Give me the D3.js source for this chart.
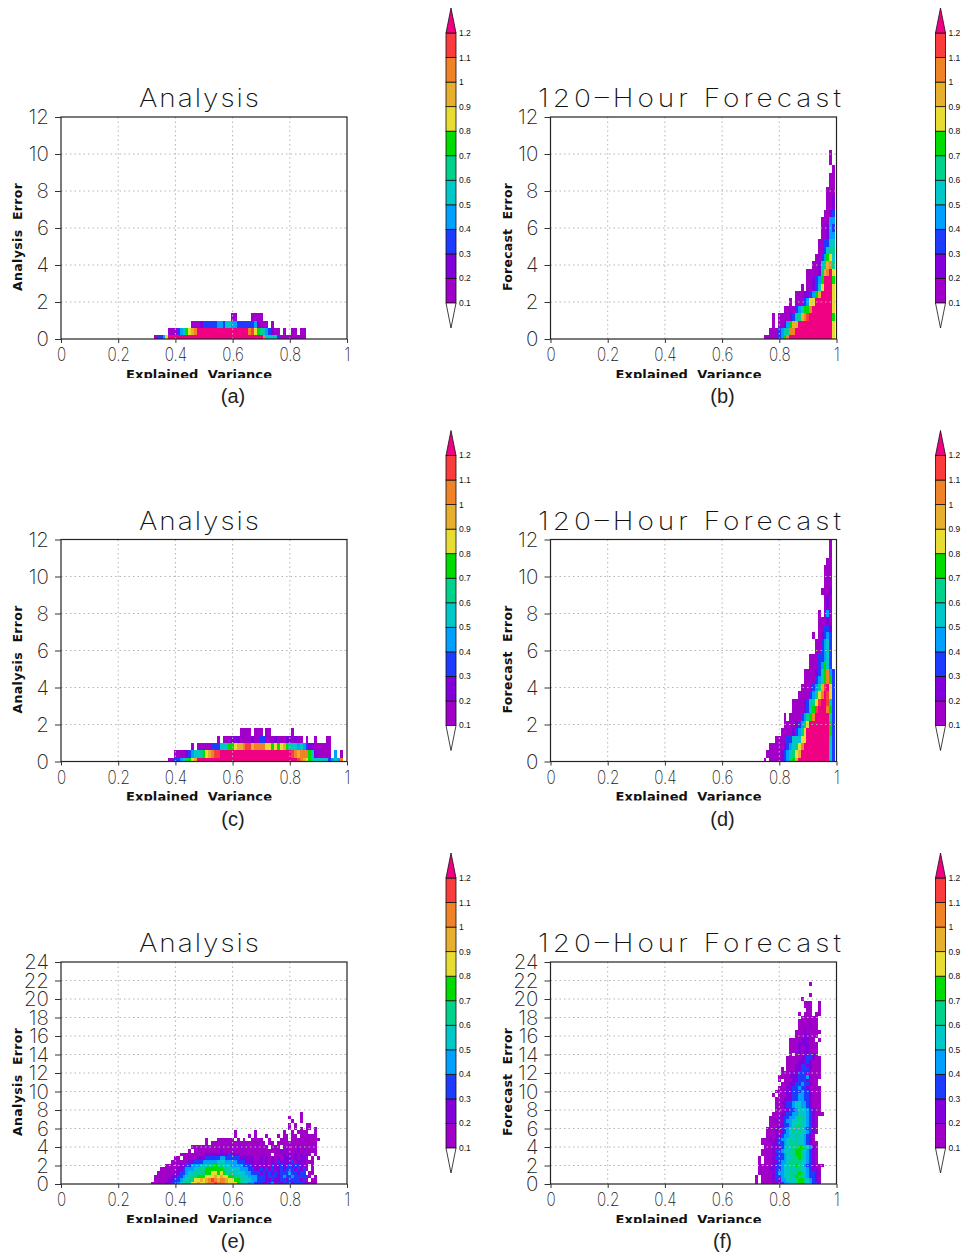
<!DOCTYPE html>
<html>
<head>
<meta charset="utf-8">
<script src="https://d3js.org/d3.v7.min.js"></script>
<style>
  html, body { margin: 0; padding: 0; background: #fff; }
  svg { display: block; }
</style>
</head>
<body>
<div id="chart-container"></div>
<script>
// Binned density: every row is [first column, levels], bottom row first.
// One column = 0.01 explained variance, one row = 0.4 error, both centred on the bin.
// Level char is the lower bound of the colour class x10 in hex ("1" = 0.1-0.2 ... "c" = above 1.2).
var densityA = [
    [33, "13348" + "c".repeat(33) + "a55553111111111"],
    [38, "111345789a" + "c".repeat(18) + "ab876543211.1..11.11"],
    [46, "111233333443554433333342111.1"],
    [60, "11.....1111"]
];
var densityB = [
    [75, "11111347a" + "c".repeat(15) + "8"],
    [77, "111" + "3456aa" + "c".repeat(13) + "8"],
    [78, "1.11" + "24799" + "c".repeat(12) + "8"],
    [78, "1.1111" + "235" + "69ab" + "c".repeat(8) + "7"],
    [82, "1111" + "34577a" + "c".repeat(7) + "8"],
    [84, "1.111" + "3488" + "c".repeat(6) + "8"],
    [86, "11122" + "3479" + "cccc" + "8"],
    [88, "1.11" + "2358" + "ccc" + "8"],
    [90, "11" + "2347" + "ccc" + "7"],
    [90, "1111269ac8"],
    [92, "112569a6"],
    [93, "1134785"],
    [94, "113566"],
    [94, "113355"],
    [95, "11244"],
    [95, "11243"],
    [95, "11144"],
    [96, "1123"],
    [97, "112"],
    [97, "112"],
    [97, "111"],
    [98, "11"],
    [98, "11"],
    [99, "1"],
    [98, "1"],
    [98, "1"]
];
var densityC = [
    [38, "1133456789" + "c".repeat(35) + "ba98765555534" + "54a"],
    [40, "1111234556789abb" + "c".repeat(25) + "ba9aaa75211111.4.1"],
    [46, "1.11111333555778" + "99abb9aaaa88787897655454322111111"],
    [55, "1.1112221111211331112111221211.1..1...11"],
    [63, "1111.111.11.......1"]
];
var densityD = [
    [75, "1.1111234679" + "c".repeat(11) + "53"],
    [76, "1111123456" + "89" + "c".repeat(10) + "53"],
    [77, "1111123456" + "8a" + "c".repeat(9) + "53"],
    [79, "11113355588" + "c".repeat(8) + "63"],
    [81, "111123468" + "c".repeat(8) + "73"],
    [82, "111123468" + "c".repeat(7) + "73"],
    [82, "1.11113467a" + "ccccc" + "63"],
    [85, "11112357b" + "ccc" + "a73"],
    [85, "11112356" + "8b" + "cc" + "b63"],
    [87, "11113468a" + "c" + "b83"],
    [88, "11113469b" + "c" + "83"],
    [89, "11113457a73"],
    [89, "1111" + "2357a43"],
    [91, "11134753"],
    [91, "11133453"],
    [93, "113453"],
    [93, "113453"],
    [92, "1.12343"],
    [94, "11332"],
    [94, "11121"],
    [94, "1.141"],
    [96, "121"],
    [96, "121"],
    [95, "1112"],
    [96, "111"],
    [96, "111"],
    [96, "111"],
    [97, "11"],
    [98, "1"],
    [98, "1"],
    [98, "1"]
];
var densityE = [
    [32, "11111" + "2233" + "45566" + "88988" + "9aaba" + "aa988" + "87655" + "44333" + "22342" + "32333" + "23332" + "2111"],
    [33, "1111" + "1223" + "34556" + "68898" + "9aba9" + "aa988" + "77655" + "54433" + "32232" + "23323" + "33323" + "1.11"],
    [33, "1111112" + "23345" + "56677" + "78889" + "89887" + "76655" + "54443" + "33233" + "32343" + "34333" + "331.1"],
    [34, "11111" + "12233" + "45566" + "66778" + "87876" + "66555" + "54433" + "32323" + "23233" + "34332" + "33.11"],
    [35, "11111" + "12234" + "44556" + "67777" + "77665" + "55544" + "43322" + "32323" + "22323" + "33232" + "31.1"],
    [37, "11111" + "22334" + "44555" + "66766" + "55544" + "44333" + "22212" + "21322" + "32232" + "33221" + ".1"],
    [39, "11111" + "12233" + "34444" + "45554" + "44433" + "32221" + "22121" + "21322" + "22312" + "22111"],
    [40, "11.11" + "11122" + "23333" + "34433" + "33322" + "22211" + "21212" + "12122" + "21212" + "21.1.1"],
    [42, "11111" + "11112" + "22222" + "22322" + "21211" + "11112" + "11.11" + "12121" + "21212" + "1.1"],
    [45, "1.111" + "11111" + "12111" + "21111" + "11111" + "11111" + "11212" + "11121" + "21111"],
    [46, "11111" + "11111" + "11111" + "11211" + "11111" + "11.11" + "1.111" + "11211" + "1111"],
    [51, "1." + "1".repeat(19) + ".11." + "1".repeat(14)],
    [51, "1...111111.1.1..1111..1...111.1111111111"],
    [61, "1....1.1...1...1.11.11.111111"],
    [61, "1......1.........1..1.1111..1"],
    [80, "1.1.1.11.1"],
    [80, "1.1...11"],
    [81, "1..1"],
    [80, "1...1"],
    [84, "1"]
];
var densityF = [
    [72, "1.111112234455677654332"],
    [72, "1.1111" + "23244565677654321"],
    [72, "1.1111" + "23345566766543322"],
    [73, "11111" + "23445566676543322"],
    [73, "11112" + "23345565665543221"],
    [73, "11111" + "2334556676543321" + "11"],
    [73, "1.111" + "2234456666554321"],
    [73, "1.111" + "2333455667654321"],
    [74, "1111" + "2233455677554321"],
    [74, "1111" + "2334556677654321"],
    [74, ".111" + "2223455667765421"],
    [74, "1111" + "2233456665543211"],
    [74, "111" + "2123445656554321"],
    [76, "111" + "22344556554321"],
    [76, "111" + "212345656554321"],
    [76, "111" + "223345556543321"],
    [77, "111" + "22334566554321"],
    [77, "11" + "212344556554321"],
    [77, "111" + "22334456654321"],
    [78, "111" + "22334455543211" + "1"],
    [78, ".11" + "12233455543211"],
    [79, "111" + "2334554432111"],
    [79, "11" + "22334554432111"],
    [79, "111" + "2223344332111"],
    [78, "1.11" + "1223344332111"],
    [79, "111" + "2223334332111"],
    [80, "111" + "223343321111"],
    [81, "11" + "12233433211"],
    [80, "1.11" + "1223332111"],
    [80, "111" + "122233342111"],
    [81, "111" + "22233321111"],
    [81, "1.11" + "1223332111"],
    [83, "111" + "223322111"],
    [83, "111" + "122232111"],
    [83, "111" + "112233211"],
    [84, "1.11" + "122321"],
    [84, "111" + "2122111"],
    [84, "111" + "2122111"],
    [84, "11" + "12222111"],
    [84, "11" + "1122211.1"],
    [86, "11122111"],
    [86, "111211111"],
    [87, "1121111"],
    [87, "1111211"],
    [87, "1111111"],
    [88, "111111"],
    [87, "1.111.11"],
    [90, "11..1"],
    [89, "111..1"],
    [89, "111..1"],
    [88, "1"],
    [91, "1"],
    [91, ""],
    [91, ""],
    [91, "1"]
];

var panelLetters = ["(a)", "(b)", "(c)", "(d)", "(e)", "(f)"];
var panelTitles = ["Analysis", "120\u2013Hour Forecast"];
var yLabels = ["Analysis  Error", "Forecast  Error"];
var xLabel = "Explained  Variance";
var xTicks = [0, 0.2, 0.4, 0.6, 0.8, 1];
var yTicksSmall = [0, 2, 4, 6, 8, 10, 12];
var yTicksLarge = [0, 2, 4, 6, 8, 10, 12, 14, 16, 18, 20, 22, 24];
var levelBreaks = [0.1, 0.2, 0.3, 0.4, 0.5, 0.6, 0.7, 0.8, 0.9, 1, 1.1, 1.2];
var levelColors = ["#ffffff", "#a000c8", "#8200dc", "#1e3cff", "#00a0ff", "#00c8c8", "#00d28c",
    "#00dc00", "#e6dc32", "#e6af2d", "#f08228", "#fa3c3c", "#f00082"];

var color = d3.scaleThreshold().domain(levelBreaks).range(levelColors);

var svg = d3.select("#chart-container")
    .append("svg")
    .attr("width", 968)
    .attr("height", 1258);

var defs = svg.append("defs");

var strokeFont = "Inter, 'Open Sans', sans-serif";
var labelFont = "'Liberation Sans', Arial, sans-serif";

// plot size and where the six panels sit
var plotWidth = 286, plotHeight = 222;
var columnsX = [61, 550.5];
var rowsY = [117, 539.5, 962];
var titleStretch = 1.12;

var panels = [
    { density: densityA, col: 0, row: 0, yTicks: yTicksSmall },
    { density: densityB, col: 1, row: 0, yTicks: yTicksSmall },
    { density: densityC, col: 0, row: 1, yTicks: yTicksSmall },
    { density: densityD, col: 1, row: 1, yTicks: yTicksSmall },
    { density: densityE, col: 0, row: 2, yTicks: yTicksLarge },
    { density: densityF, col: 1, row: 2, yTicks: yTicksLarge }
];

panels.forEach(function (p, i) {
    var left = columnsX[p.col], top = rowsY[p.row];
    var g = svg.append("g").attr("transform", "translate(" + left + "," + top + ")");

    var yMax = d3.max(p.yTicks);
    var x = d3.scaleLinear().domain([0, 1]).range([0, plotWidth]);
    var y = d3.scaleLinear().domain([0, yMax]).range([plotHeight, 0]);

    // unpack the row strings into cells
    var cells = [];
    p.density.forEach(function (r, j) {
        r[1].split("").forEach(function (ch, k) {
            if (ch !== ".") {
                cells.push({ ev: (r[0] + k) / 100, err: j * 0.4, value: parseInt(ch, 16) / 10 + 0.05 });
            }
        });
    });

    // bins are centred, so the bottom row is cut at 0 and the top one at the axis max
    g.selectAll(".cell")
        .data(cells)
        .enter()
        .append("rect")
        .attr("class", "cell")
        .attr("x", function (d) { return x(d.ev - 0.005); })
        .attr("y", function (d) { return y(Math.min(d.err + 0.2, yMax)); })
        .attr("width", x(0.01) - x(0))
        .attr("height", function (d) { return y(Math.max(d.err - 0.2, 0)) - y(Math.min(d.err + 0.2, yMax)); })
        .attr("fill", function (d) { return color(d.value); })
        .attr("shape-rendering", "crispEdges");

    // dotted grid sits over the cells
    g.selectAll(".grid-x")
        .data(xTicks.slice(1, -1))
        .enter()
        .append("line")
        .attr("x1", x).attr("x2", x)
        .attr("y1", 0).attr("y2", plotHeight)
        .attr("stroke", "#b4b4b4")
        .attr("stroke-dasharray", "1.5,3");

    g.selectAll(".grid-y")
        .data(p.yTicks.slice(1, -1))
        .enter()
        .append("line")
        .attr("x1", 0).attr("x2", plotWidth)
        .attr("y1", y).attr("y2", y)
        .attr("stroke", "#b4b4b4")
        .attr("stroke-dasharray", "1.5,3");

    g.append("rect")
        .attr("width", plotWidth)
        .attr("height", plotHeight)
        .attr("fill", "none")
        .attr("stroke", "#222")
        .attr("stroke-width", 1.2);

    // axes
    var xAxis = g.append("g")
        .attr("transform", "translate(0," + plotHeight + ")")
        .call(d3.axisBottom(x).tickValues(xTicks).tickSize(4).tickPadding(5).tickFormat(d3.format("~g")));
    var yAxis = g.append("g")
        .call(d3.axisLeft(y).tickValues(p.yTicks).tickSize(6).tickPadding(6));

    xAxis.select(".domain").remove();
    yAxis.select(".domain").remove();
    xAxis.selectAll("line").attr("stroke", "#333");
    yAxis.selectAll("line").attr("stroke", "#333");
    xAxis.selectAll("text")
        .attr("transform", "scale(0.8,1)")
        .style("font-family", strokeFont)
        .style("font-weight", 250)
        .style("font-size", "19px")
        .attr("fill", "#222");
    yAxis.selectAll("text")
        .style("font-family", strokeFont)
        .style("font-weight", 250)
        .style("font-size", "20.5px")
        .attr("fill", "#222");

    // title, a wide thin face with open letter spacing
    g.append("text")
        .attr("transform", "scale(" + titleStretch + ",1)")
        .attr("x", (plotWidth / 2 - 5 + p.col) / titleStretch)
        .attr("y", -10)
        .attr("text-anchor", "middle")
        .attr("textLength", (p.col === 0 ? 120 : 303) / titleStretch)
        .attr("lengthAdjust", "spacing")
        .style("font-family", strokeFont)
        .style("font-weight", 250)
        .style("font-size", "25px")
        .attr("fill", "#111")
        .text(panelTitles[p.col]);

    // y label
    g.append("text")
        .attr("transform", "translate(-39," + (plotHeight / 2 + 9) + ")rotate(-90)")
        .attr("text-anchor", "middle")
        .attr("textLength", 108)
        .style("font-family", "'DejaVu Sans', sans-serif")
        .style("font-weight", 700)
        .style("font-size", "12.5px")
        .style("white-space", "pre")
        .attr("fill", "#111")
        .text(yLabels[p.col]);

    // x label, bottom of the glyphs is cut off in the original
    var clipId = "label-clip-" + i;
    defs.append("clipPath").attr("id", clipId)
        .append("rect")
        .attr("x", 0).attr("y", plotHeight)
        .attr("width", plotWidth).attr("height", 39);
    g.append("g")
        .attr("clip-path", "url(#" + clipId + ")")
        .append("text")
        .attr("x", plotWidth / 2 - 5)
        .attr("y", plotHeight + 39.5)
        .attr("text-anchor", "middle")
        .attr("textLength", 146)
        .style("font-family", "'DejaVu Sans', sans-serif")
        .style("font-weight", 700)
        .style("font-size", "13px")
        .style("white-space", "pre")
        .attr("fill", "#111")
        .text(xLabel);

    // panel letter
    g.append("text")
        .attr("x", plotWidth / 2 + 29)
        .attr("y", plotHeight + 64)
        .attr("text-anchor", "middle")
        .style("font-family", labelFont)
        .style("font-size", "20px")
        .attr("fill", "#222")
        .text(panelLetters[i]);

    drawColorbar(left + 385, top - 84);
});

function drawColorbar(left, top) {
    var barWidth = 10, tip = 25;
    var g = svg.append("g").attr("transform", "translate(" + left + "," + top + ")");
    var y = d3.scaleLinear().domain([0.1, 1.2]).range([270, 0]);

    var boxes = d3.pairs(levelBreaks);
    g.selectAll(".box")
        .data(boxes)
        .enter()
        .append("rect")
        .attr("class", "box")
        .attr("x", 0)
        .attr("y", function (d) { return y(d[1]); })
        .attr("width", barWidth)
        .attr("height", function (d) { return y(d[0]) - y(d[1]); })
        .attr("fill", function (d) { return color((d[0] + d[1]) / 2); })
        .attr("stroke", "#111")
        .attr("stroke-width", 0.8);

    // end triangles for the out of range colours
    g.append("path")
        .attr("d", d3.line()([[0, y(1.2)], [barWidth / 2, y(1.2) - tip], [barWidth, y(1.2)]]) + "Z")
        .attr("fill", color(1.3))
        .attr("stroke", "#111")
        .attr("stroke-width", 0.8);
    g.append("path")
        .attr("d", d3.line()([[0, y(0.1)], [barWidth / 2, y(0.1) + tip], [barWidth, y(0.1)]]) + "Z")
        .attr("fill", color(0))
        .attr("stroke", "#111")
        .attr("stroke-width", 0.8);

    g.selectAll(".level-label")
        .data(levelBreaks)
        .enter()
        .append("text")
        .attr("x", barWidth + 3)
        .attr("y", function (d) { return y(d); })
        .attr("dy", "0.35em")
        .style("font-family", labelFont)
        .style("font-size", "8.5px")
        .attr("fill", "#111")
        .text(d3.format("~g"));
}
</script>
</body>
</html>
